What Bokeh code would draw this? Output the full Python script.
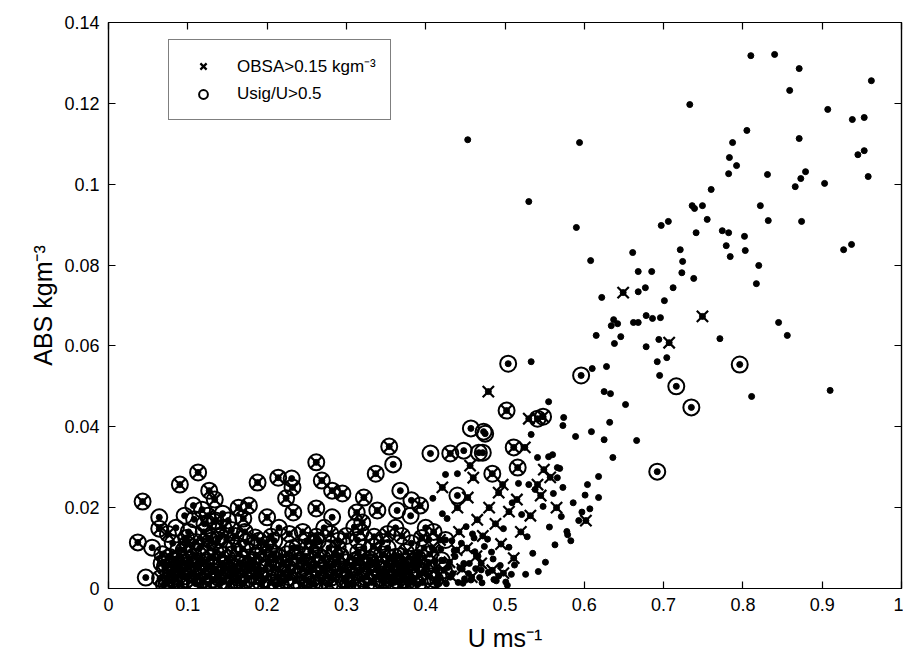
from bokeh.plotting import figure
from bokeh.models import (LinearAxis, Range1d, Legend, LegendItem, FixedTicker,
                          CustomJSTickFormatter)
from bokeh.embed import file_html
from bokeh.resources import INLINE

# ---------------- data ----------------
# points with neither flag (dot only)
plain_u = [0.453, 0.594, 0.530, 0.590, 0.608, 0.622, 0.810, 0.733, 0.805, 0.787,
           0.783, 0.792, 0.782, 0.831, 0.760, 0.840, 0.871, 0.859, 0.962, 0.907,
           0.938, 0.953, 0.871, 0.945, 0.953, 0.879, 0.873, 0.866, 0.903, 0.958,
           0.822, 0.832, 0.874, 0.927, 0.937, 0.736, 0.739, 0.749, 0.755, 0.697,
           0.706, 0.741, 0.774, 0.782, 0.802, 0.779, 0.784, 0.803, 0.661, 0.721,
           0.724, 0.820, 0.668, 0.685, 0.723, 0.738, 0.817, 0.668, 0.677, 0.712,
           0.701, 0.637, 0.642, 0.634, 0.662, 0.668, 0.678, 0.686, 0.696, 0.615,
           0.646, 0.638, 0.694, 0.678, 0.704, 0.692, 0.533, 0.610, 0.628, 0.695,
           0.625, 0.633, 0.652, 0.555, 0.574, 0.573, 0.589, 0.609, 0.625, 0.632,
           0.666, 0.636, 0.533, 0.845, 0.856, 0.771, 0.910, 0.811,
           0.425, 0.440, 0.409, 0.421, 0.427, 0.541, 0.555, 0.560, 0.566, 0.569,
           0.566, 0.573, 0.561, 0.530, 0.517, 0.618, 0.604, 0.618, 0.416, 0.454,
           0.455, 0.462, 0.470, 0.478, 0.485, 0.492, 0.498, 0.505, 0.512, 0.521,
           0.528, 0.535, 0.542, 0.548, 0.556, 0.563, 0.571, 0.578, 0.586, 0.593,
           0.601, 0.607, 0.451, 0.445, 0.437, 0.433, 0.428, 0.419, 0.412, 0.404,
           0.398, 0.391, 0.381, 0.372, 0.366, 0.358, 0.395, 0.386, 0.414, 0.447,
           0.468, 0.489, 0.503, 0.526, 0.551, 0.583, 0.597, 0.579, 0.538, 0.509,
           0.352, 0.363, 0.377, 0.384, 0.392, 0.402, 0.408, 0.415, 0.422, 0.431,
           0.436, 0.443, 0.449, 0.459, 0.466, 0.474,
           0.426, 0.434, 0.441, 0.448, 0.457, 0.463, 0.471, 0.479, 0.486, 0.494,
           0.501, 0.508, 0.483, 0.461]
plain_abs = [0.1110, 0.1103, 0.0957, 0.0893, 0.0811, 0.0720, 0.1318, 0.1197, 0.1133, 0.1103,
             0.1066, 0.1046, 0.1026, 0.1024, 0.0987, 0.1321, 0.1286, 0.1232, 0.1256, 0.1185,
             0.1160, 0.1165, 0.1113, 0.1073, 0.1083, 0.1031, 0.1014, 0.0994, 0.1002, 0.1019,
             0.0947, 0.0910, 0.0908, 0.0838, 0.0851, 0.0947, 0.0940, 0.0947, 0.0913, 0.0898,
             0.0908, 0.0880, 0.0885, 0.0880, 0.0871, 0.0848, 0.0821, 0.0836, 0.0831, 0.0838,
             0.0809, 0.0799, 0.0784, 0.0784, 0.0781, 0.0767, 0.0754, 0.0734, 0.0744, 0.0744,
             0.0712, 0.0665, 0.0655, 0.0650, 0.0658, 0.0658, 0.0675, 0.0668, 0.0670, 0.0626,
             0.0623, 0.0606, 0.0616, 0.0598, 0.0571, 0.0561, 0.0561, 0.0544, 0.0549, 0.0527,
             0.0487, 0.0482, 0.0455, 0.0462, 0.0423, 0.0403, 0.0376, 0.0388, 0.0368, 0.0411,
             0.0366, 0.0324, 0.0381, 0.0658, 0.0626, 0.0618, 0.0490, 0.0475,
             0.0282, 0.0284, 0.0223, 0.0185, 0.0173, 0.0324, 0.0326, 0.0331, 0.0299, 0.0297,
             0.0274, 0.0250, 0.0235, 0.0257, 0.0260, 0.0277, 0.0257, 0.0225, 0.0020, 0.0037,
             0.0062, 0.0091, 0.0046, 0.0122, 0.0073, 0.0031, 0.0148, 0.0102, 0.0058, 0.0183,
             0.0128, 0.0087, 0.0042, 0.0203, 0.0152, 0.0108, 0.0178, 0.0141, 0.0212, 0.0168,
             0.0231, 0.0197, 0.0153, 0.0112, 0.0079, 0.0118, 0.0052, 0.0097, 0.0068, 0.0121,
             0.0038, 0.0061, 0.0029, 0.0072, 0.0044, 0.0055, 0.0016, 0.0024, 0.0011, 0.0013,
             0.0027, 0.0019, 0.0008, 0.0035, 0.0065, 0.0118, 0.0189, 0.0133, 0.0245, 0.0212,
             0.0042, 0.0018, 0.0056, 0.0015, 0.0089, 0.0033, 0.0101, 0.0047, 0.0069, 0.0028,
             0.0094, 0.0051, 0.0024, 0.0135, 0.0080, 0.0104,
             0.0012, 0.0037, 0.0015, 0.0062, 0.0021, 0.0049, 0.0014, 0.0040, 0.0022, 0.0057,
             0.0016, 0.0035, 0.0090, 0.0125]

# OBSA > 0.15 kg m^-3 only (cross)
obsa_u = [0.649, 0.749, 0.707, 0.479, 0.421, 0.440, 0.460, 0.456, 0.525, 0.549,
          0.557, 0.541, 0.497, 0.492, 0.602, 0.530, 0.362, 0.375, 0.388, 0.400,
          0.410, 0.418, 0.430, 0.442, 0.452, 0.465, 0.472, 0.480, 0.488, 0.495,
          0.505, 0.515, 0.520, 0.532, 0.545, 0.565, 0.453, 0.511,
          0.432, 0.446, 0.458, 0.470, 0.484, 0.498, 0.439, 0.464]
obsa_abs = [0.0732, 0.0673, 0.0608, 0.0487, 0.0250, 0.0200, 0.0274, 0.0304, 0.0349, 0.0294,
            0.0275, 0.0257, 0.0257, 0.0237, 0.0168, 0.0420, 0.0060, 0.0045, 0.0080, 0.0055,
            0.0095, 0.0120, 0.0065, 0.0140, 0.0100, 0.0170, 0.0130, 0.0200, 0.0160, 0.0110,
            0.0190, 0.0220, 0.0140, 0.0180, 0.0230, 0.0200, 0.0225, 0.0075,
            0.0030, 0.0048, 0.0028, 0.0062, 0.0045, 0.0038, 0.0095, 0.0080]

# Usig/U > 0.5 only (circle)
usig_u = [0.504, 0.596, 0.692, 0.796, 0.716, 0.735, 0.064, 0.108, 0.055, 0.047,
          0.151, 0.231, 0.359, 0.368, 0.382, 0.364, 0.381, 0.282, 0.406, 0.457,
          0.473, 0.467, 0.448, 0.440, 0.475, 0.472,
          0.085, 0.110, 0.138, 0.155, 0.190, 0.215, 0.250, 0.272, 0.290, 0.310,
          0.345, 0.362, 0.382, 0.400, 0.425,
          0.072, 0.088, 0.102, 0.115, 0.128, 0.142, 0.158, 0.172, 0.188, 0.202,
          0.218, 0.232, 0.248, 0.262, 0.278, 0.292, 0.308, 0.322, 0.338, 0.352,
          0.368, 0.382, 0.398, 0.420,
          0.070, 0.084, 0.097, 0.110, 0.125, 0.139, 0.153, 0.168, 0.183, 0.198,
          0.212, 0.228, 0.244, 0.260, 0.276, 0.292, 0.308, 0.324, 0.340, 0.356,
          0.372, 0.390, 0.405,
          0.074, 0.081, 0.092, 0.101, 0.114, 0.121, 0.131, 0.141, 0.148, 0.162,
          0.174, 0.181, 0.196, 0.209, 0.223, 0.237, 0.251, 0.264, 0.283, 0.297,
          0.314, 0.329, 0.347, 0.361, 0.377, 0.389, 0.096, 0.118, 0.133, 0.107,
          0.126, 0.144]
usig_abs = [0.0556, 0.0527, 0.0289, 0.0554, 0.0500, 0.0448, 0.0176, 0.0171, 0.0101, 0.0027,
            0.0168, 0.0272, 0.0307, 0.0242, 0.0218, 0.0193, 0.0180, 0.0176, 0.0334, 0.0396,
            0.0388, 0.0336, 0.0341, 0.0230, 0.0383, 0.0336,
            0.0150, 0.0115, 0.0120, 0.0145, 0.0118, 0.0150, 0.0118, 0.0150, 0.0118, 0.0152,
            0.0115, 0.0150, 0.0112, 0.0150, 0.0120,
            0.0060, 0.0095, 0.0060, 0.0100, 0.0075, 0.0060, 0.0100, 0.0060, 0.0080, 0.0100,
            0.0060, 0.0100, 0.0080, 0.0060, 0.0100, 0.0080, 0.0058, 0.0100, 0.0060, 0.0100,
            0.0080, 0.0058, 0.0100, 0.0070,
            0.0010, 0.0030, 0.0048, 0.0012, 0.0030, 0.0010, 0.0045, 0.0012, 0.0030, 0.0048,
            0.0010, 0.0028, 0.0048, 0.0010, 0.0030, 0.0048, 0.0010, 0.0028, 0.0048, 0.0012,
            0.0030, 0.0010, 0.0030,
            0.0020, 0.0112, 0.0065, 0.0140, 0.0055, 0.0160, 0.0022, 0.0128, 0.0050, 0.0018,
            0.0115, 0.0050, 0.0022, 0.0118, 0.0020, 0.0056, 0.0020, 0.0118, 0.0058, 0.0020,
            0.0120, 0.0042, 0.0022, 0.0078, 0.0018, 0.0048, 0.0180, 0.0195, 0.0165, 0.0205,
            0.0125, 0.0185]

# both flags (circle + cross)
both_u = [0.043, 0.090, 0.113, 0.127, 0.134, 0.064, 0.037, 0.188, 0.164, 0.177,
          0.125, 0.135, 0.170, 0.185, 0.354, 0.262, 0.214, 0.232, 0.224, 0.269,
          0.282, 0.295, 0.337, 0.322, 0.393, 0.262, 0.313, 0.339, 0.200, 0.233,
          0.320, 0.431, 0.502, 0.541, 0.548, 0.511, 0.516, 0.484,
          0.075, 0.098, 0.120, 0.145, 0.160, 0.172, 0.205, 0.228, 0.245, 0.262,
          0.280, 0.300, 0.318, 0.335, 0.352, 0.370, 0.395, 0.410,
          0.068, 0.082, 0.095, 0.108, 0.122, 0.135, 0.150, 0.165, 0.180, 0.195,
          0.210, 0.225, 0.240, 0.255, 0.270, 0.285, 0.300, 0.315, 0.330, 0.345,
          0.360, 0.375, 0.390, 0.405,
          0.065, 0.078, 0.090, 0.104, 0.118, 0.132, 0.146, 0.160, 0.175, 0.190,
          0.205, 0.220, 0.236, 0.252, 0.268, 0.284, 0.300, 0.316, 0.332, 0.348,
          0.364, 0.380,
          0.071, 0.079, 0.086, 0.093, 0.099, 0.106, 0.112, 0.117, 0.123, 0.129,
          0.137, 0.143, 0.149, 0.156, 0.163, 0.169, 0.176, 0.183, 0.192, 0.198,
          0.207, 0.214, 0.221, 0.229, 0.238, 0.246, 0.253, 0.259, 0.266, 0.274,
          0.281, 0.289, 0.296, 0.304, 0.311, 0.319, 0.327, 0.334, 0.342, 0.351,
          0.358, 0.366, 0.373, 0.384, 0.392, 0.401, 0.412, 0.423,
          0.067, 0.073, 0.077, 0.083, 0.088, 0.091, 0.097, 0.103, 0.109, 0.115,
          0.119, 0.126, 0.131, 0.139, 0.144, 0.152, 0.158, 0.166, 0.171, 0.179,
          0.186, 0.193, 0.201, 0.209, 0.217, 0.226, 0.234, 0.243, 0.249, 0.257,
          0.264, 0.272, 0.279, 0.287, 0.293, 0.302, 0.309, 0.317, 0.325, 0.331,
          0.339, 0.347, 0.355, 0.362, 0.369, 0.378, 0.386, 0.396, 0.404, 0.416]
both_abs = [0.0215, 0.0257, 0.0287, 0.0242, 0.0220, 0.0148, 0.0114, 0.0262, 0.0200, 0.0205,
            0.0180, 0.0168, 0.0173, 0.0126, 0.0351, 0.0312, 0.0274, 0.0250, 0.0223, 0.0267,
            0.0242, 0.0235, 0.0284, 0.0225, 0.0205, 0.0198, 0.0188, 0.0193, 0.0176, 0.0188,
            0.0163, 0.0334, 0.0440, 0.0420, 0.0425, 0.0349, 0.0299, 0.0284,
            0.0135, 0.0125, 0.0140, 0.0150, 0.0130, 0.0140, 0.0128, 0.0135, 0.0140, 0.0128,
            0.0135, 0.0130, 0.0140, 0.0128, 0.0135, 0.0130, 0.0125, 0.0140,
            0.0085, 0.0070, 0.0095, 0.0080, 0.0065, 0.0090, 0.0075, 0.0085, 0.0065, 0.0090,
            0.0072, 0.0085, 0.0068, 0.0092, 0.0075, 0.0085, 0.0065, 0.0090, 0.0072, 0.0085,
            0.0065, 0.0090, 0.0075, 0.0085,
            0.0025, 0.0040, 0.0015, 0.0035, 0.0020, 0.0042, 0.0018, 0.0038, 0.0022, 0.0040,
            0.0015, 0.0035, 0.0020, 0.0042, 0.0018, 0.0038, 0.0022, 0.0040, 0.0015, 0.0035,
            0.0020, 0.0042,
            0.0052, 0.0033, 0.0068, 0.0045, 0.0110, 0.0058, 0.0028, 0.0105, 0.0048, 0.0118,
            0.0035, 0.0062, 0.0121, 0.0050, 0.0027, 0.0098, 0.0044, 0.0070, 0.0031, 0.0108,
            0.0052, 0.0029, 0.0063, 0.0041, 0.0101, 0.0026, 0.0057, 0.0112, 0.0038, 0.0061,
            0.0027, 0.0102, 0.0047, 0.0032, 0.0069, 0.0025, 0.0055, 0.0104, 0.0036, 0.0060,
            0.0028, 0.0049, 0.0021, 0.0066, 0.0034, 0.0052, 0.0022, 0.0045,
            0.0062, 0.0012, 0.0078, 0.0024, 0.0058, 0.0009, 0.0030, 0.0072, 0.0016, 0.0066,
            0.0040, 0.0011, 0.0079, 0.0026, 0.0083, 0.0010, 0.0054, 0.0064, 0.0014, 0.0050,
            0.0082, 0.0012, 0.0061, 0.0086, 0.0013, 0.0052, 0.0078, 0.0009, 0.0064, 0.0012,
            0.0082, 0.0045, 0.0010, 0.0066, 0.0081, 0.0012, 0.0054, 0.0076, 0.0009, 0.0063,
            0.0051, 0.0013, 0.0075, 0.0038, 0.0058, 0.0010, 0.0070, 0.0015, 0.0062, 0.0031]

x_ticks = [0, 0.1, 0.2, 0.3, 0.4, 0.5, 0.6, 0.7, 0.8, 0.9, 1.0]
y_ticks = [0, 0.02, 0.04, 0.06, 0.08, 0.1, 0.12, 0.14]

# ---------------- figure ----------------
FONT = "Liberation Sans"
p = figure(width=903, height=664, x_range=Range1d(0, 1), y_range=Range1d(0, 0.14),
           output_backend="svg", toolbar_location=None,
           min_border_left=108, min_border_right=2, min_border_top=22, min_border_bottom=76)
p.grid.visible = False
p.outline_line_color = "black"
p.outline_line_width = 1.2
p.background_fill_color = "white"
p.border_fill_color = "white"

fmt = CustomJSTickFormatter(code="return tick.toFixed(2).replace(/0+$/,'').replace(/\\.$/,'');")

for ax, ticks in ((p.xaxis[0], x_ticks), (p.yaxis[0], y_ticks)):
    ax.ticker = FixedTicker(ticks=ticks)
    ax.formatter = fmt
    ax.major_tick_in = 7
    ax.major_tick_out = 0
    ax.minor_tick_line_color = None
    ax.major_tick_line_color = "black"
    ax.major_tick_line_width = 1.2
    ax.axis_line_color = "black"
    ax.axis_line_width = 1.2
    ax.major_label_text_font = FONT
    ax.major_label_text_font_size = "18px"
    ax.major_label_text_color = "black"
    ax.axis_label_text_font = FONT
    ax.axis_label_text_font_size = "25px"
    ax.axis_label_text_font_style = "normal"
    ax.axis_label_text_color = "black"
    ax.major_label_standoff = 9

p.xaxis.axis_label = "U ms\u207b\u00b9"
p.yaxis.axis_label = "ABS kgm\u207b\u00b3"
p.xaxis.axis_label_standoff = 10
p.yaxis.axis_label_standoff = 4

blank = CustomJSTickFormatter(code="return '';")
for loc, ticks in (("above", x_ticks), ("right", y_ticks)):
    ax = LinearAxis(ticker=FixedTicker(ticks=ticks), formatter=blank,
                    major_tick_in=7, major_tick_out=0,
                    minor_tick_line_color=None, major_label_standoff=0,
                    axis_line_color="black", axis_line_width=1.2,
                    major_tick_line_width=1.2)
    p.add_layout(ax, loc)

all_u = plain_u + obsa_u + usig_u + both_u
all_abs = plain_abs + obsa_abs + usig_abs + both_abs
p.scatter(all_u, all_abs, marker="circle", size=6, color="black")
rx = p.scatter(obsa_u + both_u, obsa_abs + both_abs, marker="x", size=16,
               line_color="black", line_width=2.2)
rc = p.scatter(usig_u + both_u, usig_abs + both_abs, marker="circle", size=16,
               fill_color=None, line_color="black", line_width=2)

legend = Legend(items=[LegendItem(label="OBSA>0.15 kgm\u207b\u00b3", renderers=[rx]),
                       LegendItem(label="Usig/U>0.5", renderers=[rc])],
                location=(60, 468), orientation="vertical",
                label_text_font=FONT, label_text_font_size="17px",
                label_text_color="black", glyph_width=40, glyph_height=22,
                label_height=22, spacing=6, padding=14, label_standoff=14,
                border_line_color="black", border_line_width=1,
                background_fill_color="white", background_fill_alpha=1)
p.add_layout(legend, "center")

open("out.html", "w").write(file_html(p, INLINE))
